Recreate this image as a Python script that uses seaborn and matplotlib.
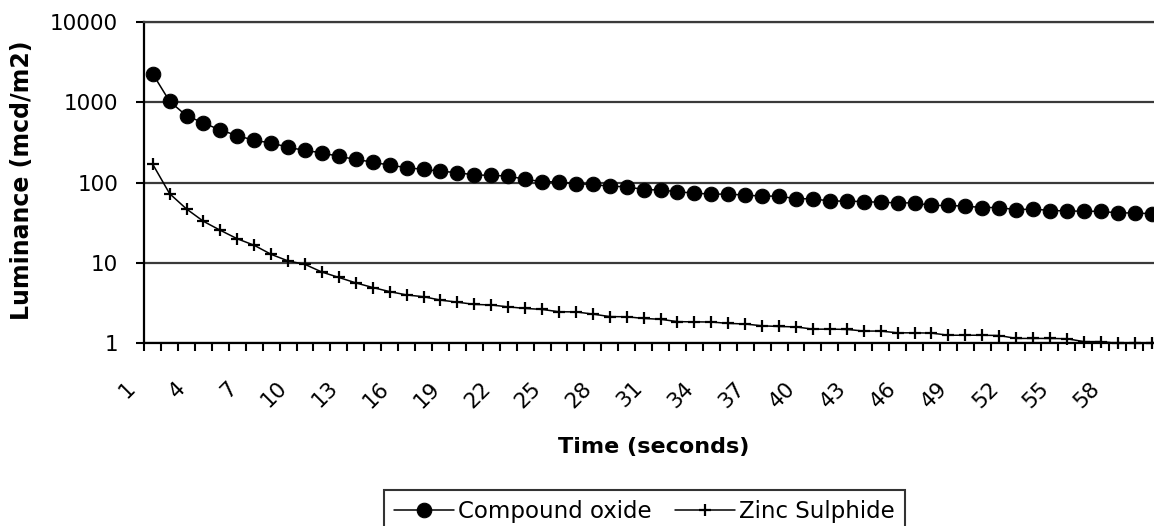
import numpy as np
import pandas as pd
import matplotlib
matplotlib.use("Agg")
import matplotlib.pyplot as plt
import matplotlib.transforms as mtransforms
from matplotlib.ticker import NullLocator, FixedLocator
import seaborn as sns

# luminance, one value per second
time = list(range(1, 61))
compound = [2270, 1030, 680, 555, 450, 386, 335, 313, 275, 252,
            235, 212, 195, 180, 165, 154, 146, 139, 133, 125,
            123, 121, 110, 103, 102, 97, 95, 90, 89, 82,
            81, 77, 74, 72, 72, 70, 68, 68, 63, 63,
            59, 59, 58, 57, 56, 56, 52, 52, 51, 49,
            49, 46, 47, 45, 44.5, 44, 44, 42, 42, 41]
zinc = [170, 73, 47, 33, 25.5, 20, 16.6, 12.8, 10.6, 9.6,
        7.7, 6.6, 5.65, 4.95, 4.4, 4.0, 3.8, 3.45, 3.25, 3.05,
        3.0, 2.84, 2.72, 2.64, 2.47, 2.46, 2.31, 2.15, 2.14, 2.04,
        1.99, 1.86, 1.85, 1.84, 1.77, 1.74, 1.65, 1.62, 1.6, 1.5,
        1.5, 1.49, 1.42, 1.42, 1.35, 1.35, 1.34, 1.26, 1.26, 1.26,
        1.25, 1.15, 1.15, 1.15, 1.14, 1.05, 1.05, 1.0, 1.0, 1.0]
xtick_labels = list(range(1, 59, 3))
ytick_values = [1, 10, 100, 1000, 10000]

sns.set_style("white")
plt.rcParams['font.family'] = ['DejaVu Sans']
plt.rcParams['text.color'] = 'black'
plt.rcParams['axes.labelcolor'] = 'black'
plt.rcParams['xtick.color'] = 'black'
plt.rcParams['ytick.color'] = 'black'

fs = 15.5
W, H = 1154, 526
fig = plt.figure(figsize=(W / 100, H / 100), dpi=100)
left, right, top, bottom = 144.2, 1154, 22, 343.3
ax = fig.add_axes([left / W, 1 - bottom / H, (right - left) / W, (bottom - top) / H])

sns.lineplot(x=time, y=compound, ax=ax, color="black", linewidth=1.1,
             marker="o", markersize=10.5, markeredgecolor="black",
             label="Compound oxide")
sns.lineplot(x=time, y=zinc, ax=ax, color="black", linewidth=1.1,
             marker="+", markersize=8, markeredgewidth=1.6,
             markeredgecolor="black", label="Zinc Sulphide", clip_on=False)

ax.set_yscale("log")
ax.set_ylim(1, 10000)
ax.yaxis.set_major_locator(FixedLocator(ytick_values))
ax.yaxis.set_minor_locator(NullLocator())
ax.set_yticklabels([str(v) for v in ytick_values])
ax.yaxis.grid(True, color="#3a3a3a", linewidth=1.6)
ax.set_axisbelow(True)

ax.set_xlim(0.5, 0.5 + (right - left) / 16.93)
ax.set_xticks(xtick_labels)
ax.set_xticklabels([str(v) for v in xtick_labels])
ax.xaxis.set_minor_locator(FixedLocator(np.arange(0.5, 61, 1)))

for s in ["left", "bottom"]:
    ax.spines[s].set_color("black")
    ax.spines[s].set_linewidth(1.6)
ax.spines["top"].set_color("#3a3a3a")
ax.spines["top"].set_linewidth(1.6)
ax.spines["right"].set_visible(False)

ax.tick_params(axis="y", which="major", direction="out", length=5.8, width=1.5,
               color="black", labelcolor="black", pad=13, labelsize=fs, left=True)
ax.tick_params(axis="x", which="major", length=0, pad=30, labelsize=fs,
               labelcolor="black", bottom=True)
ax.tick_params(axis="x", which="minor", direction="out", length=5.8, width=1.5,
               color="black", bottom=True)

shift = mtransforms.ScaledTranslation(-0.21, 0, fig.dpi_scale_trans)
for lab in ax.get_xticklabels():
    lab.set_rotation(45)
    lab.set_ha("right")
    lab.set_va("center")
    lab.set_rotation_mode("anchor")
    lab.set_transform(lab.get_transform() + shift)

ax.set_xlabel("Time (seconds)", fontsize=16, fontweight="bold", va="center",
              color="black")
ax.xaxis.set_label_coords((654 - left) / (right - left), -(447 - bottom) / (bottom - top))
ax.set_ylabel("Luminance (mcd/m2)", fontsize=17, fontweight="bold", va="center",
              color="black")
ax.yaxis.set_label_coords((22 - left) / (right - left), (bottom - 180) / (bottom - top))

leg = ax.legend(loc="upper left", bbox_to_anchor=(384 / W, 1 - 490 / H),
                bbox_transform=fig.transFigure, ncol=2, frameon=True,
                fancybox=False, edgecolor="black", fontsize=16.5,
                handlelength=2.6, handletextpad=0.2, columnspacing=1.0,
                borderpad=0.45, borderaxespad=0)
leg.get_frame().set_linewidth(1.5)
for t in leg.get_texts():
    t.set_color("black")

fig.savefig("out.png", dpi=100)
